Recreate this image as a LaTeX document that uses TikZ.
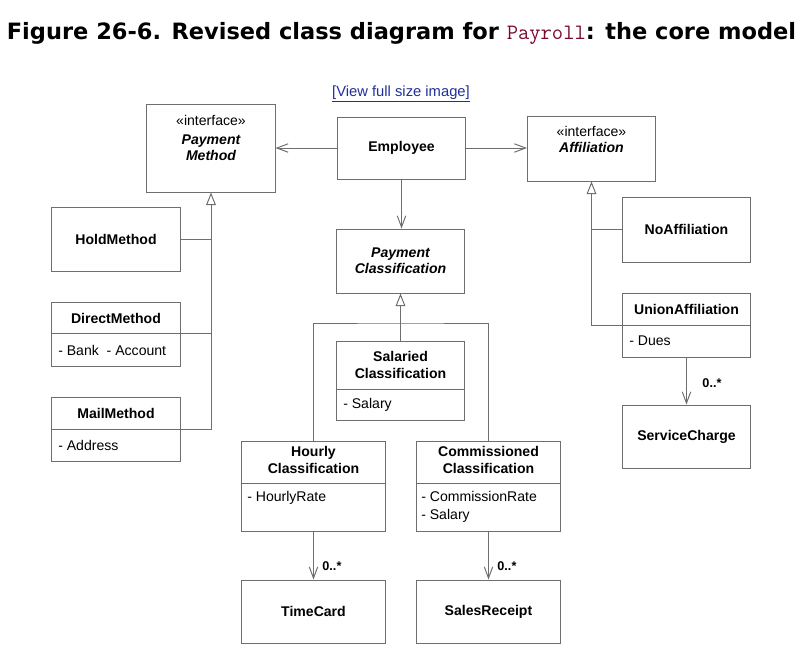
\documentclass[tikz,border=0pt]{standalone}
\usepackage{fontspec}
\setmainfont{Liberation Sans}
\newfontfamily\titlefont{DejaVu Sans}
\usetikzlibrary{arrows.meta}
\definecolor{linegray}{HTML}{6E6E6E}
\definecolor{codered}{HTML}{7A0A33}
\definecolor{linkblue}{HTML}{1F2F99}

\tikzset{
cls/.style={draw=linegray,line width=0.7pt,inner sep=0pt,minimum width=3.2cm,minimum height=1.6cm,font=\bfseries,align=center},
wide/.style={minimum width=3.575cm},
txt/.style={inner sep=0pt,align=center,font=\bfseries\fontsize{10}{11.5}\selectfont},
attr/.style={inner sep=0pt,anchor=west,align=left,font=\fontsize{10}{12.5}\selectfont},
stereo/.style={inner sep=0pt},
rel/.style={draw=linegray,line width=0.7pt},
inh/.style={rel,-{Triangle[open,length=9pt,width=7pt]}},
assoc/.style={rel,-{Straight Barb[length=8pt,width=6pt]}},
mult/.style={inner sep=0pt,font=\bfseries\small}
}

\begin{document}
\begin{tikzpicture}[x=0.025cm,y=-0.025cm]
\useasboundingbox (0,0) rectangle (808,646);
\node[inner sep=0pt] (title) at (401.5,33) {\titlefont\bfseries\fontsize{16}{18}\selectfont Figure 26-6. Revised class diagram for {\ttfamily\mdseries\fontsize{15.6}{18}\selectfont\color{codered}Payroll}: the core model};
\node[inner sep=0pt,text=linkblue,font=\fontsize{10.5}{12}\selectfont] (link) at (401,94) {\underline{[View full size image]}};

\node[cls,minimum height=2.2cm] (paymethod) at (211,148) {};
\node[stereo] (paymethodst) at (211,120) {«interface»};
\node[txt,font=\bfseries\itshape\fontsize{10}{11.5}\selectfont] (paymethodname) at (211,148) {Payment\\Method};
\node[cls,minimum height=1.55cm] (employee) at (401.5,148) {Employee};
\node[cls,minimum height=1.625cm] (affiliation) at (591.5,148.5) {};
\node[stereo] (affiliationst) at (591.5,131) {«interface»};
\node[txt,font=\bfseries\itshape\fontsize{10}{11.5}\selectfont] (affiliationname) at (591.5,147) {Affiliation};
\node[cls,minimum height=1.6cm,font=\bfseries\itshape\fontsize{10}{11.5}\selectfont] (payclass) at (400.5,261) {Payment\\Classification};

\node[cls] (hold) at (116,239) {HoldMethod};
\node[cls] (direct) at (116,334) {};
\node[txt] (directname) at (116,318) {DirectMethod};
\node[attr] (directattr) at (58,350) {- Bank\ \ - Account};
\draw[rel] (direct.west |- 0,333) -- (direct.east |- 0,333);
\node[cls] (mail) at (116,429) {};
\node[txt] (mailname) at (116,413) {MailMethod};
\node[attr] (mailattr) at (58,445) {- Address};
\draw[rel] (mail.west |- 0,429) -- (mail.east |- 0,429);

\node[cls,minimum height=1.625cm] (noaff) at (686.5,229.5) {NoAffiliation};
\node[cls] (union) at (686.5,325) {};
\node[txt] (unionname) at (686.5,309) {UnionAffiliation};
\node[attr] (unionattr) at (629,341) {- Dues};
\draw[rel] (union.west |- 0,325) -- (union.east |- 0,325);
\node[cls,minimum height=1.575cm] (service) at (686.5,436.5) {ServiceCharge};

\node[cls,minimum height=1.975cm] (salaried) at (400.5,380.5) {};
\node[txt] (salariedname) at (400.5,365) {Salaried\\Classification};
\node[attr] (salariedattr) at (343,405) {- Salary};
\draw[rel] (salaried.west |- 0,389) -- (salaried.east |- 0,389);
\node[cls,wide,minimum height=2.25cm] (hourly) at (313.5,486) {};
\node[txt] (hourlyname) at (313.5,460) {Hourly\\Classification};
\node[attr] (hourlyattr) at (247,498) {- HourlyRate};
\draw[rel] (hourly.west |- 0,483) -- (hourly.east |- 0,483);
\node[cls,wide,minimum height=2.25cm] (commission) at (488.5,486) {};
\node[txt] (commissionname) at (488.5,460) {Commissioned\\Classification};
\node[attr] (commissionattr) at (421,507) {- CommissionRate\\- Salary};
\draw[rel] (commission.west |- 0,483) -- (commission.east |- 0,483);
\node[cls,wide,minimum height=1.575cm] (timecard) at (313.5,611.5) {TimeCard};
\node[cls,wide,minimum height=1.575cm] (receipt) at (488.5,611.5) {SalesReceipt};

\draw[assoc] (employee.west) -- (paymethod.east |- employee.west);
\draw[assoc] (employee.east) -- (affiliation.west |- employee.east);
\draw[assoc] (employee.south) -- (employee.south |- payclass.north);

\coordinate (directjoin) at (180,333);
\coordinate (mailjoin) at (180,429);
\draw[rel] (hold.east) -- (hold.east -| paymethod.south);
\draw[rel] (directjoin) -- (directjoin -| paymethod.south);
\draw[inh] (mailjoin) -| (paymethod.south);

\coordinate (unionjoin) at (623,325);
\draw[rel] (noaff.west) -- (noaff.west -| affiliation.south);
\draw[inh] (unionjoin) -| (affiliation.south);

\coordinate (classjoin) at (400.5,323);
\draw[inh] (salaried.north) -- (payclass.south);
\draw[rel] (hourly.north) |- (classjoin) -| (commission.north);

\draw[assoc] (union.south) -- (service.north) node[mult,right,pos=0.55,xshift=11pt] {0..*};
\draw[assoc] (hourly.south) -- (timecard.north) node[mult,right,pos=0.72,xshift=6pt] {0..*};
\draw[assoc] (commission.south) -- (receipt.north) node[mult,right,pos=0.72,xshift=6pt] {0..*};
\end{tikzpicture}
\end{document}
